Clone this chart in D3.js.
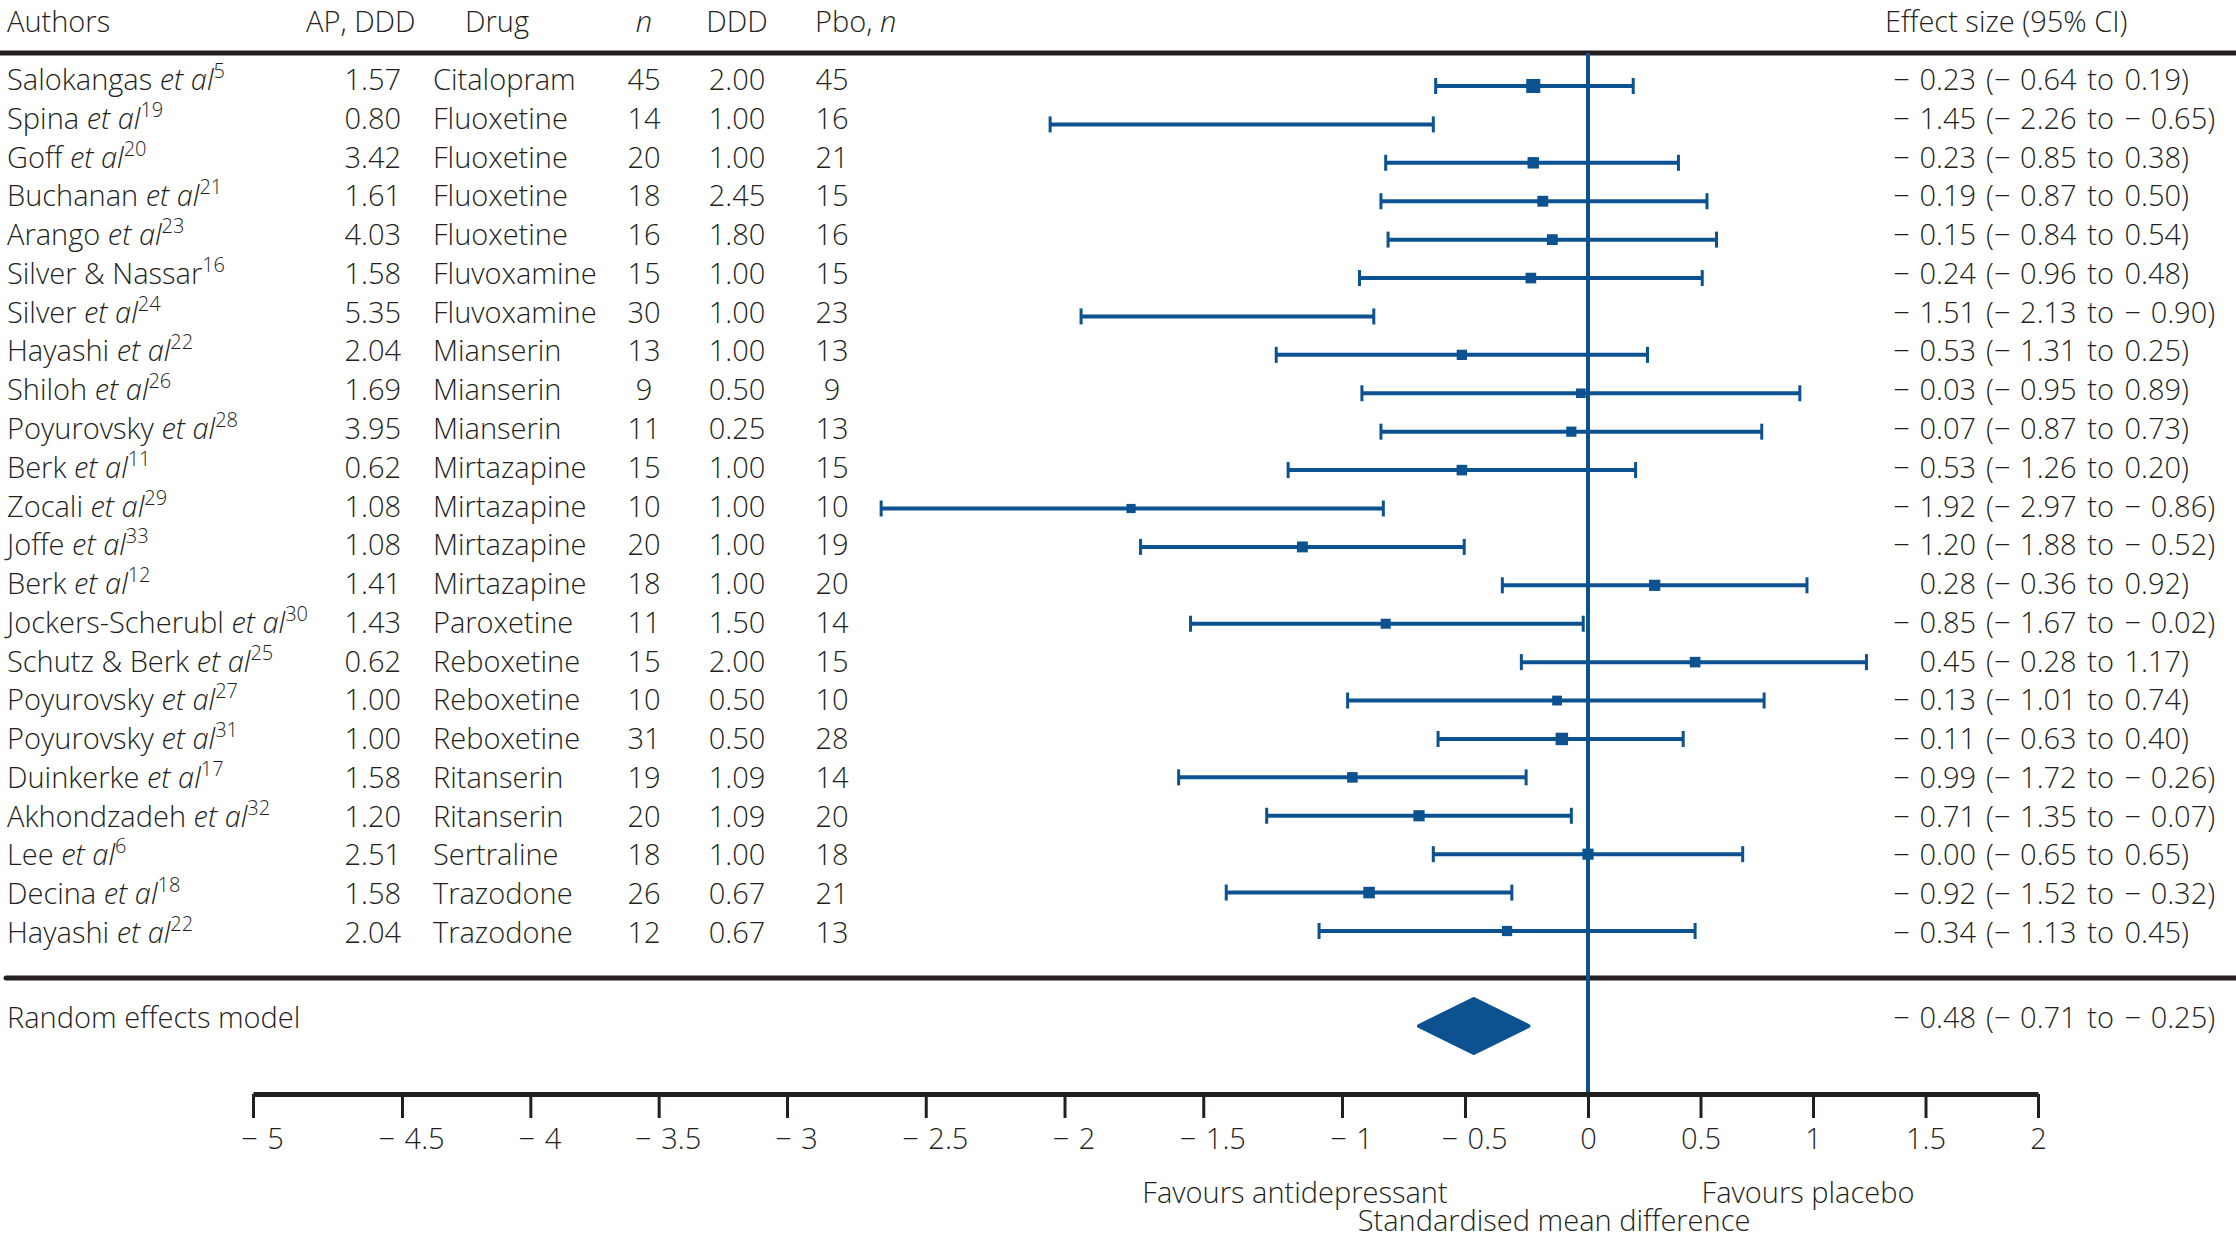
<!DOCTYPE html>
<html><head><meta charset="utf-8">
<script src="https://cdn.jsdelivr.net/npm/d3@7"></script>
<style>
body{margin:0;background:#fff}
svg{display:block}
text{font-family:"Open Sans","Liberation Sans",Arial,sans-serif;font-weight:300;fill:#231f20;font-size:29px}
</style>
</head><body>
<svg id="chart" width="2236" height="1241"></svg>
<script>
// ---------- data ----------
const authors = ["Salokangas","Spina","Goff","Buchanan","Arango","Silver & Nassar","Silver","Hayashi","Shiloh","Poyurovsky","Berk","Zocali","Joffe","Berk","Jockers-Scherubl","Schutz & Berk","Poyurovsky","Poyurovsky","Duinkerke","Akhondzadeh","Lee","Decina","Hayashi"];
const etAl = [true,true,true,true,true,false,true,true,true,true,true,true,true,true,true,true,true,true,true,true,true,true,true];
const refs = ["5","19","20","21","23","16","24","22","26","28","11","29","33","12","30","25","27","31","17","32","6","18","22"];
const apDDD = ["1.57","0.80","3.42","1.61","4.03","1.58","5.35","2.04","1.69","3.95","0.62","1.08","1.08","1.41","1.43","0.62","1.00","1.00","1.58","1.20","2.51","1.58","2.04"];
const drugs = ["Citalopram","Fluoxetine","Fluoxetine","Fluoxetine","Fluoxetine","Fluvoxamine","Fluvoxamine","Mianserin","Mianserin","Mianserin","Mirtazapine","Mirtazapine","Mirtazapine","Mirtazapine","Paroxetine","Reboxetine","Reboxetine","Reboxetine","Ritanserin","Ritanserin","Sertraline","Trazodone","Trazodone"];
const nDrug = [45,14,20,18,16,15,30,13,9,11,15,10,20,18,11,15,10,31,19,20,18,26,12];
const dddVals = ["2.00","1.00","1.00","2.45","1.80","1.00","1.00","1.00","0.50","0.25","1.00","1.00","1.00","1.00","1.50","2.00","0.50","0.50","1.09","1.09","1.00","0.67","0.67"];
const nPbo = [45,16,21,15,16,15,23,13,9,13,15,10,19,20,14,15,10,28,14,20,18,21,13];
const est = [-0.23,-1.45,-0.23,-0.19,-0.15,-0.24,-1.51,-0.53,-0.03,-0.07,-0.53,-1.92,-1.20,0.28,-0.85,0.45,-0.13,-0.11,-0.99,-0.71,-0,-0.92,-0.34];
const lo  = [-0.64,-2.26,-0.85,-0.87,-0.84,-0.96,-2.13,-1.31,-0.95,-0.87,-1.26,-2.97,-1.88,-0.36,-1.67,-0.28,-1.01,-0.63,-1.72,-1.35,-0.65,-1.52,-1.13];
const hi  = [0.19,-0.65,0.38,0.50,0.54,0.48,-0.90,0.25,0.89,0.73,0.20,-0.86,-0.52,0.92,-0.02,1.17,0.74,0.40,-0.26,-0.07,0.65,-0.32,0.45];
const squareShown = [true,false,true,true,true,true,false,true,true,true,true,true,true,true,true,true,true,true,true,true,true,true,true];
const pooledLabel = "Random effects model";
const pooledEst = -0.48, pooledLo = -0.71, pooledHi = -0.25;
const axisTicks = [-5,-4.5,-4,-3.5,-3,-2.5,-2,-1.5,-1,-0.5,0,0.5,1,1.5,2];
const axisAnchors = [-5,-4.5,-3,-1,0,2];
const headers = ["Authors","AP, DDD","Drug","n","DDD","Pbo, ","Effect size (95% CI)"];
const favourLeft = "Favours antidepressant", favourRight = "Favours placebo";
const xTitle = "Standardised mean difference";

// ---------- layout ----------
const W = 2236, H = 1241;
const blue = "#0c5291", ink = "#231f20";
const svg = d3.select("#chart");
const MINUS = "\u2212";
const fmt2 = v => ((v < 0 || Object.is(v, -0)) ? MINUS + "\u2004" : "") + Math.abs(v).toFixed(2);

const rows = d3.range(authors.length);
const y = d3.scalePoint().domain(rows).range([86, 931]);        // marks
const yt = d3.scalePoint().domain(rows).range([90, 943]);       // text baselines
const x = d3.scaleLinear().domain([-3, 0, 1.2]).range([1588 - 3 * 238, 1588, 1588 + 1.2 * 238]);
const xa = d3.scaleLinear().domain(axisAnchors).range([253, 402, 787, 1342, 1588, 2038]);

const col = {auth: 7, ap: 401, drug: 433, n: 644, ddd: 737, pbo: 832, estEnd: 1976, ci: 1986};
const topLine = 53, sepLine = 978, axisY = 1094, pooledY = 1026;

// header
const hdr = svg.append("g");
const hy = 32;
hdr.append("text").attr("x", col.auth).attr("y", hy).text(headers[0]);
hdr.append("text").attr("x", 306).attr("y", hy).text(headers[1]);
hdr.append("text").attr("x", 465).attr("y", hy).text(headers[2]);
hdr.append("text").attr("x", col.n).attr("y", hy).attr("text-anchor", "middle").style("font-style", "italic").text(headers[3]);
hdr.append("text").attr("x", col.ddd).attr("y", hy).attr("text-anchor", "middle").text(headers[4]);
const pb = hdr.append("text").attr("x", 815).attr("y", hy);
pb.append("tspan").text(headers[5]);
pb.append("tspan").style("font-style", "italic").text("n");
hdr.append("text").attr("x", 1885).attr("y", hy).text(headers[6]);

// rules
svg.append("line").attr("x1", 0).attr("x2", W).attr("y1", topLine).attr("y2", topLine)
  .attr("stroke", ink).attr("stroke-width", 5);
svg.append("line").attr("x1", 6).attr("x2", W).attr("y1", sepLine).attr("y2", sepLine)
  .attr("stroke", ink).attr("stroke-width", 5).attr("stroke-linecap", "round");

// table text
const tb = svg.append("g");
rows.forEach(i => {
  const by = yt(i);
  const t = tb.append("text").attr("x", col.auth).attr("y", by);
  t.append("tspan").text(authors[i] + (etAl[i] ? " " : ""));
  if (etAl[i]) t.append("tspan").style("font-style", "italic").text("et al");
  t.append("tspan").attr("dy", -12).style("font-size", "20px").text(refs[i]);
  tb.append("text").attr("x", col.ap).attr("y", by).attr("text-anchor", "end").text(apDDD[i]);
  tb.append("text").attr("x", col.drug).attr("y", by).text(drugs[i]);
  tb.append("text").attr("x", col.n).attr("y", by).attr("text-anchor", "middle").text(nDrug[i]);
  tb.append("text").attr("x", col.ddd).attr("y", by).attr("text-anchor", "middle").text(dddVals[i]);
  tb.append("text").attr("x", col.pbo).attr("y", by).attr("text-anchor", "middle").text(nPbo[i]);
  tb.append("text").attr("x", col.estEnd).attr("y", by).attr("text-anchor", "end").text(fmt2(est[i]));
  tb.append("text").attr("x", col.ci).attr("y", by).style("word-spacing", "3px")
    .text("(" + fmt2(lo[i]) + " to " + fmt2(hi[i]) + ")");
});

// zero line
svg.append("line").attr("x1", x(0)).attr("x2", x(0)).attr("y1", topLine).attr("y2", axisY)
  .attr("stroke", blue).attr("stroke-width", 4);

// CIs
const plot = svg.append("g").attr("stroke", blue).attr("fill", blue);
rows.forEach(i => {
  const yy = y(i);
  plot.append("line").attr("x1", x(lo[i])).attr("x2", x(hi[i])).attr("y1", yy).attr("y2", yy).attr("stroke-width", 4);
  [lo[i], hi[i]].forEach(v => plot.append("line").attr("x1", x(v)).attr("x2", x(v))
    .attr("y1", yy - 8).attr("y2", yy + 8).attr("stroke-width", 3));
  if (squareShown[i]) {
    const se = (hi[i] - lo[i]) / 3.92;
    const s = 6 + 1.7 * Math.sqrt(1 / (se * se));
    plot.append("rect").attr("x", x(est[i]) - s / 2).attr("y", yy - s / 2)
      .attr("width", s).attr("height", s).attr("stroke", "none");
  }
});

// pooled
svg.append("text").attr("x", col.auth).attr("y", pooledY + 2).text(pooledLabel);
svg.append("polygon")
  .attr("points", [[x(pooledLo), pooledY], [x(pooledEst), pooledY - 27], [x(pooledHi), pooledY], [x(pooledEst), pooledY + 27]].map(p => p.join(",")).join(" "))
  .attr("fill", blue).attr("stroke", blue).attr("stroke-width", 4).attr("stroke-linejoin", "round");
svg.append("text").attr("x", col.estEnd).attr("y", pooledY + 2).attr("text-anchor", "end").text(fmt2(pooledEst));
svg.append("text").attr("x", col.ci).attr("y", pooledY + 2).style("word-spacing", "3px")
  .text("(" + fmt2(pooledLo) + " to " + fmt2(pooledHi) + ")");

// axis
const axis = d3.axisBottom(xa).tickValues(axisTicks).tickSize(24).tickSizeOuter(0).tickPadding(10)
  .tickFormat(v => v < 0 ? MINUS + "\u2004" + Math.abs(v) : String(v));
const ag = svg.append("g").attr("transform", `translate(0,${axisY})`).call(axis);
ag.attr("font-size", null).attr("font-family", null);
ag.select(".domain").attr("stroke", ink).attr("stroke-width", 5).attr("stroke-linejoin", "round");
ag.selectAll(".tick line").attr("stroke", ink).attr("stroke-width", 3);
ag.selectAll(".tick text").attr("fill", ink).attr("dx", d => d < 0 ? 9 : 0);

svg.append("text").attr("x", xa(0) - 293).attr("y", 1203).attr("text-anchor", "middle").text(favourLeft);
svg.append("text").attr("x", xa(0) + 220).attr("y", 1203).attr("text-anchor", "middle").text(favourRight);
svg.append("text").attr("x", xa(0) - 34).attr("y", 1231).attr("text-anchor", "middle").text(xTitle);
</script>
</body></html>
